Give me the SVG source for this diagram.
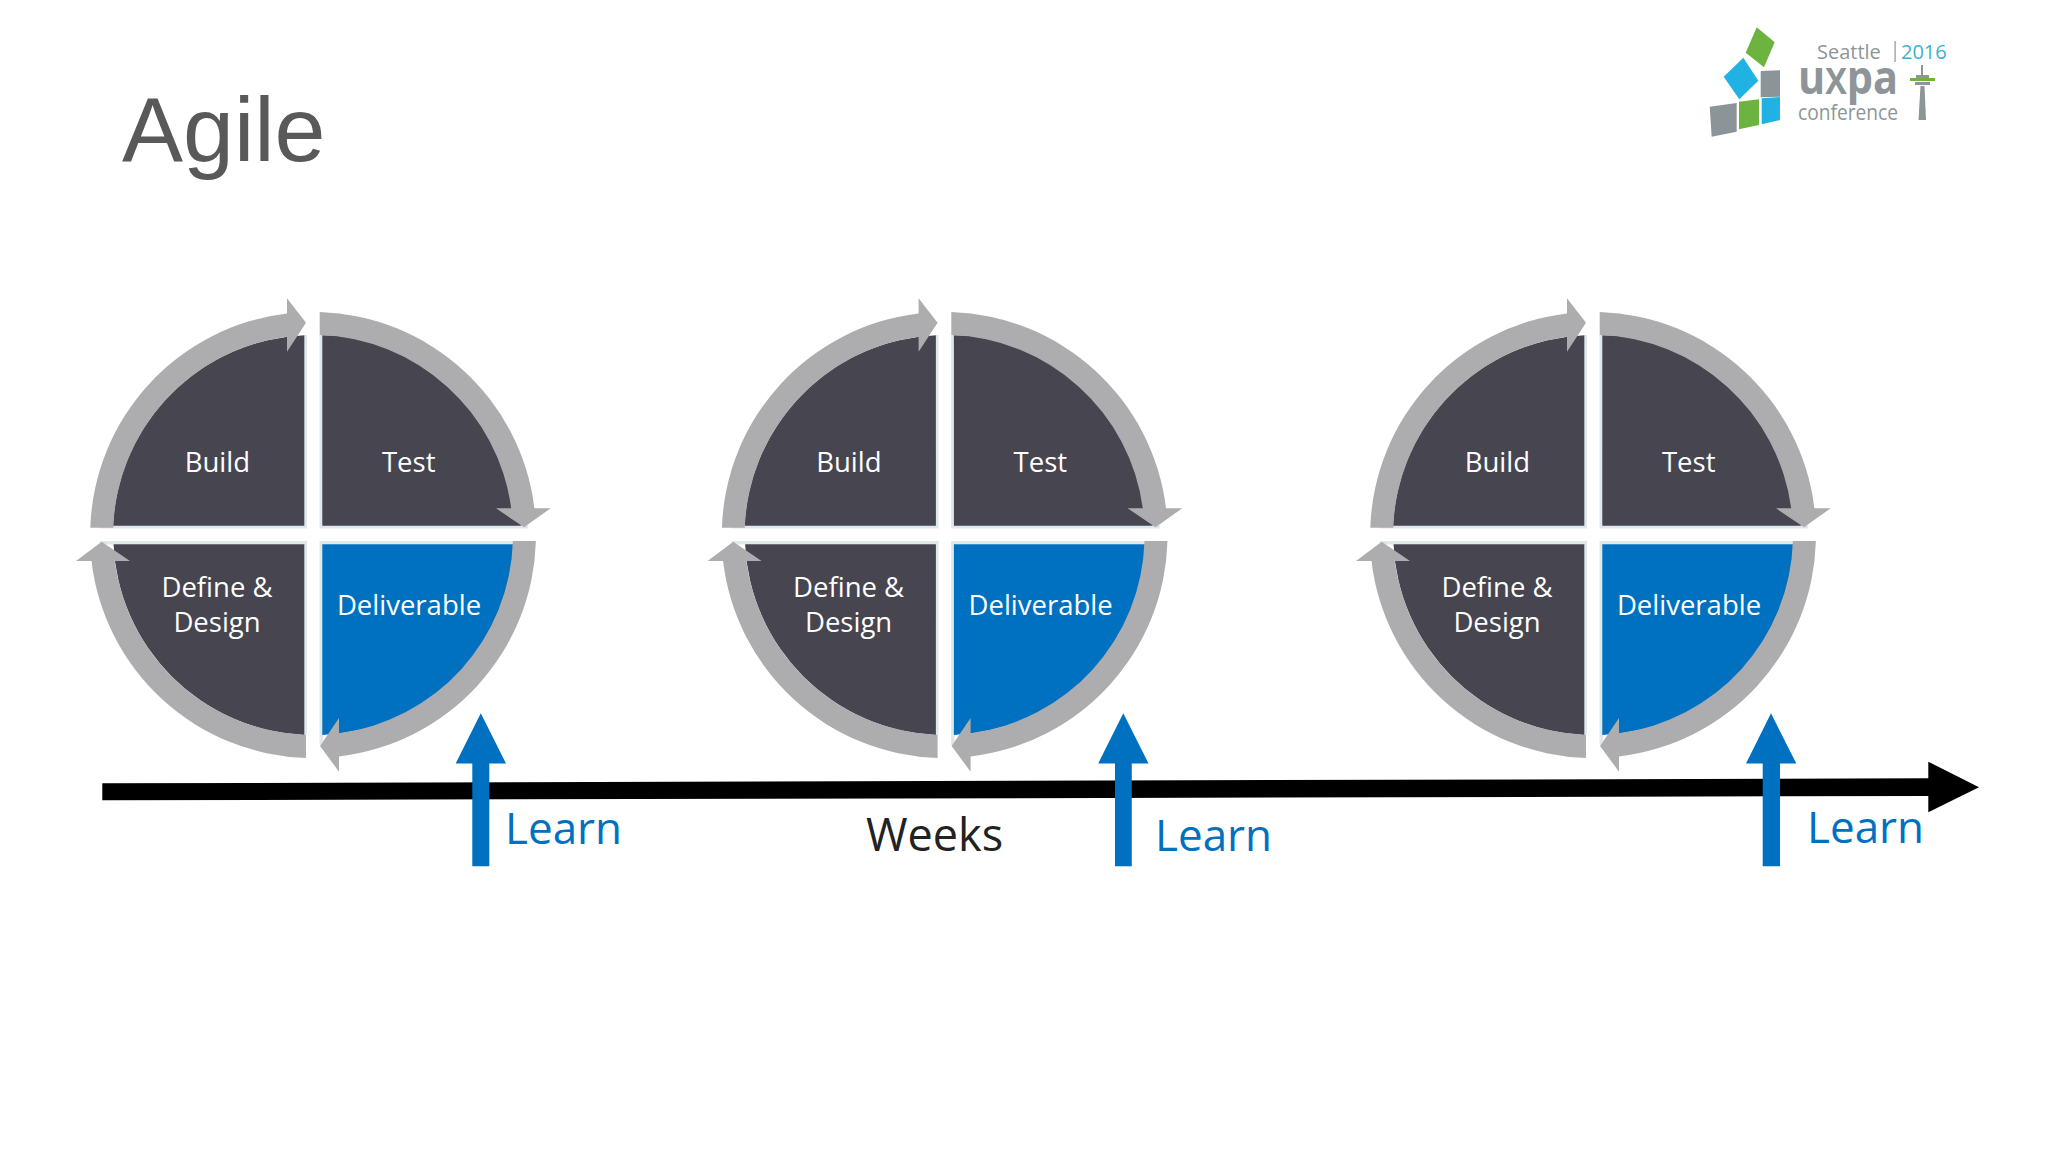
<svg xmlns="http://www.w3.org/2000/svg" xmlns:xlink="http://www.w3.org/1999/xlink" width="2048" height="1152" viewBox="0 0 2048 1152">
<style>
.halo{fill:#dfe9ec}
.dark{fill:#464550}
.blue{fill:#0070c0}
.ring{fill:#adadb0}
.lbl{font-family:"Open Sans","Noto Sans",sans-serif;font-size:27.5px;fill:#fff;text-anchor:middle}
.learn{font-family:"Open Sans","Noto Sans",sans-serif;font-size:44px;fill:#0070c0}
.gt{font-family:"Open Sans","Noto Sans",sans-serif;fill:#8d9599}
</style>
<defs>
<g id="cycle">
<path class="halo" d="M304 335H307V528.500H100V525H304Z"/>
<path class="halo" d="M319.500 335H323V525H528V528.500H319.500Z"/>
<path class="halo" d="M100 541H307V735H304V544.500H100Z"/>
<path class="halo" d="M319.500 541H515V544.500H323V745H319.500Z"/>
<path class="dark" d="M304.300 525.700H113V525.700A200 200 0 0 1 304.300 335.200Z"/>
<path class="dark" d="M322.300 525.700V335.200A200 200 0 0 1 521 525.700Z"/>
<path class="dark" d="M304.300 544.300V735A200 200 0 0 1 113.500 544.300Z"/>
<path class="blue" d="M322.300 544.300H514V544.300A200 200 0 0 1 322.300 735Z"/>
<path class="ring" d="M90.300 527.700A223 223 0 0 1 287 313.500V298.300L306 322.700L287 351.700V336.700A200 200 0 0 0 113.200 527.700Z"/>
<path class="ring" d="M319.700 312.100A223 223 0 0 1 534.400 508.300H550.700L524 527.300L496 508.300H511.200A200 200 0 0 0 319.700 335.100Z"/>
<path class="ring" d="M535.900 541A223 223 0 0 1 339 756.500V771.700L320 746L339 718V733.300A200 200 0 0 0 512.900 541Z"/>
<path class="ring" d="M306 757.900A223 223 0 0 1 91.500 561H76L101.700 541.700L130 561H114.700A200 200 0 0 0 306 734.900Z"/>
<text class="lbl" x="217.300" y="472.300">Build</text>
<text class="lbl" x="408.700" y="472.300">Test</text>
<text class="lbl" x="217" y="597.300">Define &amp;</text>
<text class="lbl" x="217" y="632.300">Design</text>
<text class="lbl" x="409" y="614.700">Deliverable</text>
</g>
</defs>
<rect width="2048" height="1152" fill="#fff"/>
<g id="title"><text x="122" y="160.500" font-family="'Liberation Sans',Arial,sans-serif" font-size="91.500" fill="#595959">Agile</text></g>
<g id="logo">
<polygon points="1756.700,27.300 1774.700,42.300 1764,67.300 1745.700,52.700" fill="#6cb33f"/>
<polygon points="1743.300,57.700 1758.300,80.700 1739.300,99.300 1723.700,76.700" fill="#1fb2e3"/>
<polygon points="1760.700,71 1780,70.300 1780,96.700 1760.700,97.300" fill="#8a9499"/>
<polygon points="1709.700,106.700 1736.700,103 1736.700,131.700 1711.700,136.700" fill="#8a9499"/>
<polygon points="1739,101.700 1759,99.300 1759,125 1739,129.300" fill="#6cb33f"/>
<polygon points="1761.700,98.300 1780,97 1780,120 1761.700,124.300" fill="#1fb2e3"/>
<text class="gt" x="1817" y="59" font-size="20">Seattle</text>
<rect x="1894.500" y="41" width="1.200" height="21" fill="#8d9599"/>
<text x="1901" y="59" font-family="'Open Sans',sans-serif" font-size="20" fill="#3fb0d0">2016</text>
<text class="gt" transform="translate(1798 93.500) scale(.9 1)" font-size="46" font-weight="700">u<tspan font-size="36">X</tspan>pa</text>
<text class="gt" x="1798" y="120" font-size="22" textLength="100" lengthAdjust="spacingAndGlyphs">conference</text>
<polygon points="1921,65 1923,65 1923,76 1921,76" fill="#8d9599"/>
<rect x="1916" y="75" width="13" height="3" fill="#8d9599"/>
<rect x="1910" y="78" width="25" height="3" fill="#6cb33f"/>
<rect x="1915" y="82" width="15" height="3" fill="#8d9599"/>
<polygon points="1920.500,86 1924.500,86 1926,120 1918.500,120" fill="#8d9599"/>
</g>
<g id="connectors">
<polygon id="timeline" points="102.300,783.300 1928.300,778.300 1928.300,761.700 1979,787.300 1928.300,812.300 1928.300,796 102.300,800.300" fill="#000"/>
<polygon id="learn-arrow-1" class="blue" points="472.300,866.300 472.300,763.500 455.700,763.500 480.800,713.300 506,763.500 489.300,763.500 489.300,866.300"/>
<polygon id="learn-arrow-2" class="blue" points="1115,866.300 1115,763.500 1098.200,763.500 1123.300,713.300 1148.500,763.500 1131.800,763.500 1131.800,866.300"/>
<polygon id="learn-arrow-3" class="blue" points="1762.700,866.300 1762.700,763.500 1746,763.500 1771,713.300 1796.300,763.500 1780,763.500 1780,866.300"/>
</g>
<g id="cycle-1"><use xlink:href="#cycle" href="#cycle"/></g>
<g id="cycle-2"><use xlink:href="#cycle" href="#cycle" x="631.600"/></g>
<g id="cycle-3"><use xlink:href="#cycle" href="#cycle" x="1280"/></g>
<g id="labels">
<text class="learn" x="505" y="843.500">Learn</text>
<text x="866" y="851" font-family="'Open Sans',sans-serif" font-size="45" fill="#222">Weeks</text>
<text class="learn" x="1155" y="851">Learn</text>
<text class="learn" x="1807" y="842.500">Learn</text>
</g>
</svg>
